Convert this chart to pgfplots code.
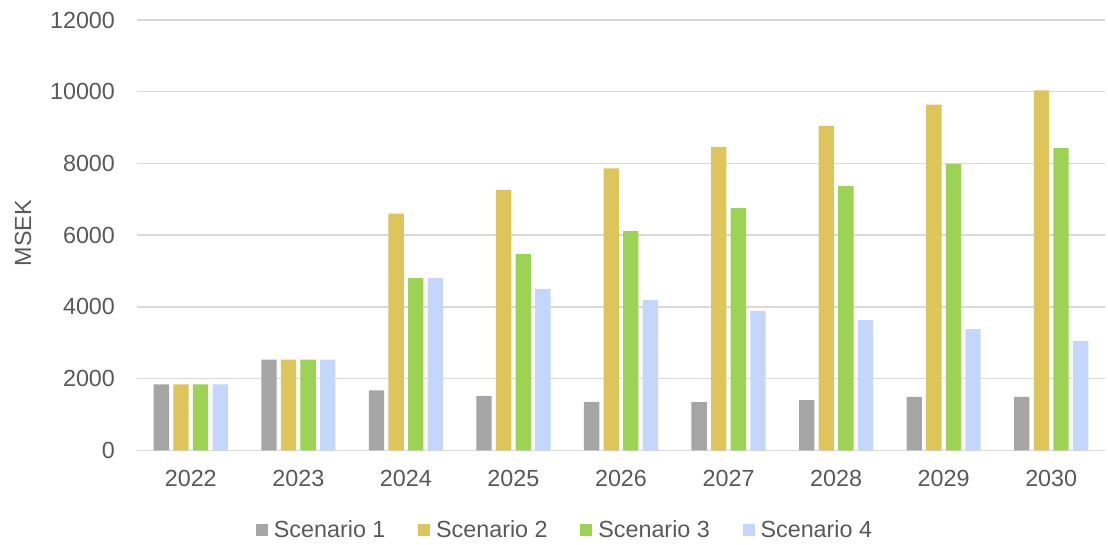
\documentclass[border=0pt]{standalone}
\usepackage{pgfplots}
\pgfplotsset{compat=1.18}
\usepackage{fontspec}
\setmainfont{Liberation Sans}
\definecolor{txt}{HTML}{595959}
\definecolor{gridc}{HTML}{D9D9D9}
\definecolor{sA}{HTML}{A5A5A5}
\definecolor{sB}{HTML}{DEC55B}
\definecolor{sC}{HTML}{9DD355}
\definecolor{sD}{HTML}{C4D6FC}
\pgfplotsset{sq/.style={legend image code/.code={\fill[##1] (0pt,-4.5pt) rectangle (9pt,4.5pt); \path (0pt,0pt) (11.5pt,0pt);}}}
\begin{document}
\begin{tikzpicture}
\begin{axis}[
  name=ax,
  scale only axis,
  width=726pt, height=322.7pt,
  ybar=3.2pt, bar width=11.5pt,
  xmin=-0.5, xmax=8.5,
  ymin=0, ymax=12000,
  xtick=data,
  xticklabels={2022,2023,2024,2025,2026,2027,2028,2029,2030},
  ytick={0,2000,...,12000},
  scaled y ticks=false,
  ymajorgrids, grid style={gridc, line width=1.1pt},
  axis x line*=bottom, axis y line*=left,
  x axis line style={gridc, line width=1.1pt, -},
  y axis line style={draw=none},
  separate axis lines,
  xtick style={draw=none}, ytick style={draw=none},
  tick label style={font=\fontsize{17.5}{20}\selectfont, text=txt},
  /pgf/number format/assume math mode=true,
  /pgf/number format/1000 sep={},
  yticklabel style={xshift=-13pt},
  xticklabel style={yshift=-7pt},
  ylabel={MSEK},
  ylabel style={at={(axis description cs:-0.1178,0.505)}, anchor=center, font=\fontsize{17.5}{20}\selectfont, text=txt},
  legend columns=4,
  legend style={at={(axis description cs:0.4425,-0.1856)}, anchor=center, draw=none, fill=none,
    font=\fontsize{17.5}{20}\selectfont, text=txt,
    nodes={inner xsep=2pt},
    /tikz/every even column/.append style={column sep=22.5pt}},
  legend cell align=left,
]
\addplot[fill=sA, draw=none, sq] coordinates {(0,1840) (1,2530) (2,1670) (3,1520) (4,1350) (5,1340) (6,1400) (7,1490) (8,1490)};
\addplot[fill=sB, draw=none, sq] coordinates {(0,1840) (1,2530) (2,6600) (3,7260) (4,7860) (5,8460) (6,9050) (7,9640) (8,10040)};
\addplot[fill=sC, draw=none, sq] coordinates {(0,1840) (1,2530) (2,4800) (3,5480) (4,6110) (5,6750) (6,7370) (7,7990) (8,8430)};
\addplot[fill=sD, draw=none, sq] coordinates {(0,1840) (1,2530) (2,4800) (3,4500) (4,4190) (5,3890) (6,3630) (7,3380) (8,3050)};
\legend{Scenario 1, Scenario 2, Scenario 3, Scenario 4}
\end{axis}
\path (ax.south west) ++(-102.75pt,-70.35pt) coordinate (bl);
\path (ax.north east) ++(2.25pt,15pt) coordinate (tr);
\pgfresetboundingbox
\path[use as bounding box] (bl) rectangle (tr);
\end{tikzpicture}
\end{document}
